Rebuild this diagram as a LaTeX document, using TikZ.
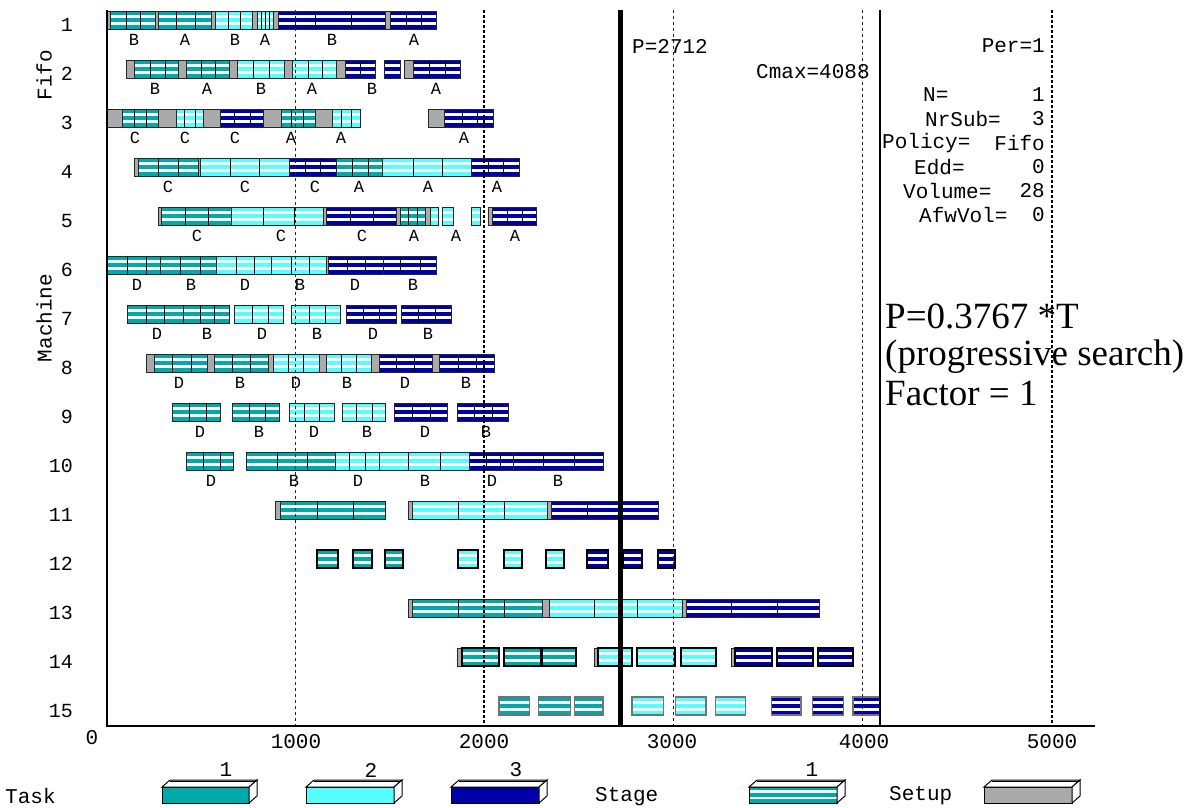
\documentclass[tikz,border=0pt]{standalone}
\usepackage{fontspec}
\setmainfont{Liberation Serif}
\newfontfamily\cmono{Liberation Mono}
\newfontfamily\cserif{Liberation Serif}
\definecolor{tA}{HTML}{00AAAA}
\definecolor{tB}{HTML}{55FFFF}
\definecolor{tC}{HTML}{0000AA}
\definecolor{sG}{HTML}{AAAAAA}
\tikzset{
  barl/.style={draw=black!85, line width=1pt},
  thickb/.style={draw=black, line width=2pt},
  grayb/.style={draw=black!55, line width=1.2pt},
  divl/.style={draw=black, line width=1pt},
  thinDash/.style={draw=black!85, line width=1pt, dash pattern=on 3pt off 3pt},
  thickDot/.style={draw=black, line width=2pt, dash pattern=on 3pt off 2pt},
  rowlbl/.style={font=\cmono\fontsize{20}{22}\selectfont, inner sep=0pt, anchor=east},
  ticklbl/.style={font=\cmono\fontsize{21}{23}\selectfont, inner sep=0pt},
  joblbl/.style={font=\cmono\fontsize{17}{19}\selectfont, inner sep=0pt},
  stattxt/.style={font=\cmono\fontsize{21}{23}\selectfont, inner sep=0pt},
  bigtxt/.style={font=\cserif\fontsize{37}{40}\selectfont, inner sep=0pt, anchor=base west},
}
% striped task block with sublot dividers
\newcommand\tk[5]{%
  \fill[#4] (#1,#3-9) rectangle (#2,#3+9);
  \fill[white] (#1,#3-5) rectangle (#2,#3-2);
  \fill[white] (#1,#3+2) rectangle (#2,#3+5);
  \foreach \dd in {#5}{\draw[divl] (\dd,#3-9) -- (\dd,#3+9);}
  \draw[barl] (#1,#3-9) rectangle (#2,#3+9);}
% single striped block with border style
\newcommand\tks[5]{%
  \fill[#4] (#1,#3-9) rectangle (#2,#3+9);
  \fill[white] (#1,#3-5) rectangle (#2,#3-2);
  \fill[white] (#1,#3+2) rectangle (#2,#3+5);
  \draw[#5] (#1,#3-9) rectangle (#2,#3+9);}
% setup block
\newcommand\su[3]{%
  \fill[sG] (#1,#3-9) rectangle (#2,#3+9);
  \draw[barl] (#1,#3-9) rectangle (#2,#3+9);}
% job label
\newcommand\jl[4]{\node[joblbl] (#1) at (#2,#3) {#4};}
% 3D legend box frame
\newcommand\lframe[2]{%
  \draw[black, line width=1pt] (#1,787) rectangle (#2,803);
  \filldraw[fill=white, draw=black, line width=1pt] (#1,787) -- (#1+8,780) -- (#2+8,780) -- (#2,787) -- cycle;
  \draw[black, line width=1pt] (#1+8,781.5) -- (#2+8,781.5);
  \filldraw[fill=white, draw=black, line width=1pt] (#2,787) -- (#2+8,780) -- (#2+8,796) -- (#2,803) -- cycle;}
\begin{document}
\begin{tikzpicture}[x=1pt,y=-1pt]
\useasboundingbox (0,0) rectangle (1192,807);
\fill[white] (0,0) rectangle (1192,807);

% ---------- Row 1 ----------
\su{107}{110}{20}
\tk{110}{155}{20}{tA}{126,140}
\su{155}{158}{20}
\tk{158}{211}{20}{tA}{176.5,195}
\su{211}{215.5}{20}
\tk{215.5}{252}{20}{tB}{228,240}
\su{252}{257}{20}
\tk{257}{273.5}{20}{tB}{261,265.5,269.5}
\su{273.5}{278}{20}
\tk{278}{385.5}{20}{tC}{315.5,351}
\su{385.5}{390}{20}
\tk{390}{436}{20}{tC}{406,421}
% ---------- Row 2 ----------
\su{126}{134.5}{69}
\tk{134.5}{178.6}{69}{tA}{150,165}
\su{178.6}{186}{69}
\tk{186}{229}{69}{tA}{201.7,215.5}
\su{229}{237}{69}
\tk{237}{284.5}{69}{tB}{253.4,269}
\su{284.5}{292.4}{69}
\tk{292.4}{336}{69}{tB}{308.6,322.4}
\su{336}{345}{69}
\tk{345}{375}{69}{tC}{360}
\tks{384.5}{400.7}{69}{tC}{barl}
\su{404.5}{413}{69}
\tk{413}{460}{69}{tC}{429,445}
% ---------- Row 3 ----------
\su{107}{122.4}{118}
\tk{122.4}{158.6}{118}{tA}{134.5,146.5}
\su{158.6}{176}{118}
\tk{176}{203.4}{118}{tB}{184.5,195}
\su{203.4}{220}{118}
\tk{220}{263.8}{118}{tC}{234.5,250}
\su{263.8}{281}{118}
\tk{281}{315.5}{118}{tA}{291.4,303.4}
\su{315.5}{332.8}{118}
\tk{332.8}{360.3}{118}{tB}{341.4,351}
\su{428.6}{444.8}{118}
\tk{444.8}{493}{118}{tC}{462,477.6}
% ---------- Row 4 ----------
\su{134.5}{138}{167}
\tk{138}{198}{167}{tA}{158.6,178.6}
\su{198}{200.7}{167}
\tk{200.7}{289}{167}{tB}{230,259.3}
\tk{289}{336}{167}{tC}{305,320.7}
\tk{336}{382}{167}{tA}{352.4,368.3}
\tk{382}{471.7}{167}{tB}{413,442.4}
\tk{471.7}{519}{167}{tC}{488,503.4}
% ---------- Row 5 ----------
\su{158.6}{161.4}{216}
\tk{161.4}{231.7}{216}{tA}{185.5,208.6}
\tk{231.7}{323.4}{216}{tB}{263.8,294.8}
\su{323.4}{326}{216}
\tk{326}{396.6}{216}{tC}{350,373.4}
\su{396.6}{400}{216}
\tk{400}{425.9}{216}{tA}{408.6,417.2}
\su{425.9}{430.3}{216}
\tks{430.3}{438}{216}{tB}{barl}
\tks{442.4}{453.4}{216}{tB}{barl}
\tks{471.7}{480.3}{216}{tB}{barl}
\su{488}{492.4}{216}
\tk{492.4}{536}{216}{tC}{507,522.4}
% ---------- Row 6 ----------
\tk{107}{160.7}{265}{tA}{127,146}
\tk{160.7}{216}{265}{tA}{180.5,200.4}
\tk{216}{271.8}{265}{tB}{236,254}
\tk{271.8}{326}{265}{tB}{291.7,309.5}
\su{326}{328}{265}
\tk{328}{383}{265}{tC}{347,365}
\tk{383}{436.5}{265}{tC}{400.8,420}
% ---------- Row 7 ----------
\tk{127}{183}{314}{tA}{146.8,164.7}
\tk{183}{229}{314}{tA}{200.4,214.3}
\tk{234}{283.7}{314}{tB}{252,268}
\tk{291.7}{340.5}{314}{tB}{309.5,325.4}
\tk{346}{396}{314}{tC}{363,379}
\tk{401.6}{451.6}{314}{tC}{418.7,435.7}
% ---------- Row 8 ----------
\su{146.8}{154}{363}
\tk{154}{207}{363}{tA}{172.6,191}
\su{207}{214.3}{363}
\tk{214.3}{268}{363}{tA}{232,250}
\su{268}{273.8}{363}
\tk{273.8}{319.4}{363}{tB}{288.5,303.6}
\su{319.4}{326}{363}
\tk{326}{371}{363}{tB}{341.3,356.3}
\su{371}{379}{363}
\tk{379}{432.5}{363}{tC}{396,414.7}
\su{432.5}{439.7}{363}
\tk{439.7}{494}{363}{tC}{458.3,476}
% ---------- Row 9 ----------
\tk{172.6}{220}{412}{tA}{189.7,206.3}
\tk{232}{279.8}{412}{tA}{249.2,265}
\tk{289}{334}{412}{tB}{304.8,319.4}
\tk{342}{385.7}{412}{tB}{356.3,372.2}
\tk{394.8}{447.6}{412}{tC}{412.7,430.6}
\tk{457}{508}{412}{tC}{474.2,492}
% ---------- Row 10 ----------
\tk{186.5}{233.3}{461}{tA}{203.2,220.2}
\tk{246.8}{335.3}{461}{tA}{277.8,307.5}
\tk{335.3}{379}{461}{tB}{349.2,365.9}
\tk{379}{469}{461}{tB}{408.7,440.5}
\tk{469}{513.9}{461}{tC}{486,500}
\tk{513.9}{603}{461}{tC}{543.7,574.2}
% ---------- Row 11 ----------
\su{275.6}{280.5}{510}
\tk{280.5}{385}{510}{tA}{317.4,353.4}
\su{408.4}{412.5}{510}
\tk{412.5}{547}{510}{tB}{458,504.7}
\su{547}{551.8}{510}
\tk{551.8}{658.4}{510}{tC}{587,622.7}
% ---------- Row 12 ----------
\tks{317.4}{337.9}{559}{tA}{thickb}
\tks{352.6}{371.9}{559}{tA}{thickb}
\tks{385}{402.6}{559}{tA}{thickb}
\tks{457.5}{478.4}{559}{tB}{thickb}
\tks{503.9}{522.3}{559}{tB}{thickb}
\tks{546}{564}{559}{tB}{thickb}
\tks{586.6}{607.5}{559}{tC}{thickb}
\tks{622.7}{642}{559}{tC}{thickb}
\tks{657.5}{675.2}{559}{tC}{thickb}
% ---------- Row 13 ----------
\su{408.4}{412.5}{608}
\tk{412.5}{542.8}{608}{tA}{458,504.7}
\su{542.8}{549}{608}
\tk{549}{682}{608}{tB}{594,637}
\su{682}{686}{608}
\tk{686}{819.4}{608}{tC}{731.3,777.2}
% ---------- Row 14 ----------
\su{457.5}{461.6}{657}
\tks{461.6}{499}{657}{tA}{thickb}
\tks{503.9}{540.7}{657}{tA}{thickb}
\tks{542}{575.6}{657}{tA}{thickb}
\su{594}{598}{657}
\tks{598}{632}{657}{tB}{thickb}
\tks{637}{674.8}{657}{tB}{thickb}
\tks{681.3}{716}{657}{tB}{thickb}
\su{731.3}{735.4}{657}
\tks{735.4}{771.5}{657}{tC}{thickb}
\tks{777.2}{812.5}{657}{tC}{thickb}
\tks{818.2}{853}{657}{tC}{thickb}
% ---------- Row 15 ----------
\tks{499}{529.7}{706}{tA}{grayb}
\tks{538.7}{570.2}{706}{tA}{grayb}
\tks{574.8}{603}{706}{tA}{grayb}
\tks{632}{663.7}{706}{tB}{grayb}
\tks{675.2}{706}{706}{tB}{grayb}
\tks{715.7}{745.7}{706}{tB}{grayb}
\tks{771.5}{801}{706}{tC}{grayb}
\tks{812.5}{843.2}{706}{tC}{grayb}
\tks{853}{880}{706}{tC}{grayb}

% ---------- grid / marker lines ----------
\draw[thinDash] (295,10) -- (295,726);
\draw[thickDot] (484,10) -- (484,726);
\draw[thinDash] (673,10) -- (673,726);
\draw[thinDash] (862,10) -- (862,726);
\draw[thickDot] (1052,10) -- (1052,726);
\draw[line width=5pt] (620,10) -- (620,726);
\draw[line width=2pt] (880,10) -- (880,726);
% axes
\draw[line width=1.5pt] (107,10) -- (107,726.5);
\draw[line width=2pt] (106,726) -- (1095,726);

% ---------- row numbers ----------
\foreach \r in {1,...,15}{
  \pgfmathsetmacro\yy{20+(\r-1)*49+5}
  \node[rowlbl] (row\r) at (73,\yy) {\r};
}
\node[ticklbl, rotate=90] (fifo) at (44,75) {Fifo};
\node[ticklbl, rotate=90] (machine) at (44,318) {Machine};

% ---------- x axis labels ----------
\node[ticklbl] (x0) at (92,738) {0};
\node[ticklbl] (x1000) at (296,742) {1000};
\node[ticklbl] (x2000) at (484,742) {2000};
\node[ticklbl] (x3000) at (672,742) {3000};
\node[ticklbl] (x4000) at (864,742) {4000};
\node[ticklbl] (x5000) at (1052,742) {5000};

% ---------- job labels ----------
\jl{j1a}{134}{40}{B}\jl{j1b}{185}{40}{A}\jl{j1c}{235}{40}{B}\jl{j1d}{265}{40}{A}\jl{j1e}{332}{40}{B}\jl{j1f}{414}{40}{A}
\jl{j2a}{155}{89}{B}\jl{j2b}{207}{89}{A}\jl{j2c}{261}{89}{B}\jl{j2d}{312}{89}{A}\jl{j2e}{372}{89}{B}\jl{j2f}{436}{89}{A}
\jl{j3a}{135}{138}{C}\jl{j3b}{185}{138}{C}\jl{j3c}{235}{138}{C}\jl{j3d}{291}{138}{A}\jl{j3e}{341}{138}{A}\jl{j3f}{464}{138}{A}
\jl{j4a}{168}{187}{C}\jl{j4b}{245}{187}{C}\jl{j4c}{315}{187}{C}\jl{j4d}{359}{187}{A}\jl{j4e}{428}{187}{A}\jl{j4f}{497}{187}{A}
\jl{j5a}{197}{236}{C}\jl{j5b}{281}{236}{C}\jl{j5c}{362}{236}{C}\jl{j5d}{414}{236}{A}\jl{j5e}{456}{236}{A}\jl{j5f}{515}{236}{A}
\jl{j6a}{137}{285}{D}\jl{j6b}{191}{285}{B}\jl{j6c}{245}{285}{D}\jl{j6d}{300}{285}{B}\jl{j6e}{355}{285}{D}\jl{j6f}{413}{285}{B}
\jl{j7a}{157}{334}{D}\jl{j7b}{207}{334}{B}\jl{j7c}{262}{334}{D}\jl{j7d}{317}{334}{B}\jl{j7e}{373}{334}{D}\jl{j7f}{428}{334}{B}
\jl{j8a}{179}{383}{D}\jl{j8b}{240}{383}{B}\jl{j8c}{296}{383}{D}\jl{j8d}{347}{383}{B}\jl{j8e}{405}{383}{D}\jl{j8f}{466}{383}{B}
\jl{j9a}{200}{432}{D}\jl{j9b}{259}{432}{B}\jl{j9c}{314}{432}{D}\jl{j9d}{367}{432}{B}\jl{j9e}{425}{432}{D}\jl{j9f}{486}{432}{B}
\jl{j10a}{211}{481}{D}\jl{j10b}{294}{481}{B}\jl{j10c}{358}{481}{D}\jl{j10d}{425}{481}{B}\jl{j10e}{492}{481}{D}\jl{j10f}{558}{481}{B}

% ---------- statistics text ----------
\node[stattxt, anchor=west] (ptxt) at (632,46) {P=2712};
\node[stattxt, anchor=west] (cmax) at (756,72) {Cmax=4088};
\node[stattxt, anchor=east] (per) at (1045,46) {Per=1};
\node[stattxt, anchor=west] (nl) at (923,95) {N=};
\node[stattxt, anchor=east] (nr) at (1045,95) {1};
\node[stattxt, anchor=west] (subl) at (925,119) {NrSub=};
\node[stattxt, anchor=east] (subr) at (1045,119) {3};
\node[stattxt, anchor=west] (poll) at (882,143) {Policy=};
\node[stattxt, anchor=east] (polr) at (1045,143) {Fifo};
\node[stattxt, anchor=west] (eddl) at (914,167) {Edd=};
\node[stattxt, anchor=east] (eddr) at (1045,167) {0};
\node[stattxt, anchor=west] (voll) at (903,191) {Volume=};
\node[stattxt, anchor=east] (volr) at (1045,191) {28};
\node[stattxt, anchor=west] (afwl) at (919,215) {AfwVol=};
\node[stattxt, anchor=east] (afwr) at (1045,215) {0};

\node[bigtxt] (big1) at (885,328) {P=0.3767 *T};
\node[bigtxt] (big2) at (885,365) {(progressive search)};
\node[bigtxt] (big3) at (885,405) {Factor = 1};

% ---------- legend ----------
\node[ticklbl, anchor=west] (task) at (5,796) {Task};
\fill[tA] (162,787) rectangle (249,803);
\lframe{162}{249}
\node[ticklbl] (lg1) at (226,770) {1};
\fill[tB] (306,787) rectangle (394,803);
\lframe{306}{394}
\node[ticklbl] (lg2) at (371,770) {2};
\fill[tC] (451,787) rectangle (539,803);
\lframe{451}{539}
\node[ticklbl] (lg3) at (516,770) {3};
\node[ticklbl, anchor=west] (stage) at (595,797) {Stage};
\fill[tA] (749,787) rectangle (837,803);
\fill[white] (749,790) rectangle (837,792.5);
\fill[white] (749,796.5) rectangle (837,799);
\lframe{749}{837}
\node[ticklbl] (lgs) at (812,770) {1};
\node[ticklbl, anchor=west] (setup) at (889,796) {Setup};
\fill[sG] (984,787) rectangle (1072,803);
\lframe{984}{1072}
\end{tikzpicture}
\end{document}
